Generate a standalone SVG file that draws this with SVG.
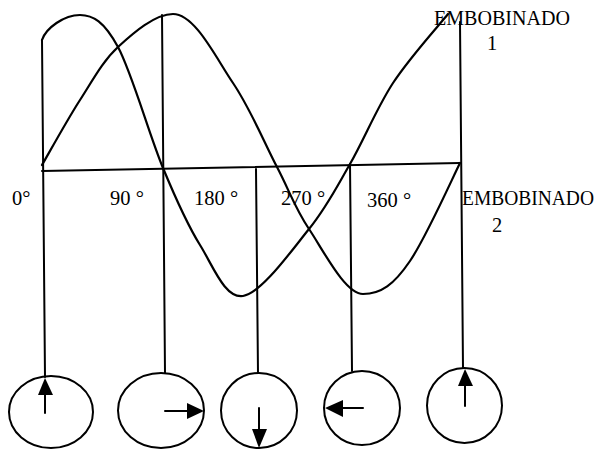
<svg xmlns="http://www.w3.org/2000/svg" width="601" height="449" viewBox="0 0 601 449">
<style>
.ln{fill:none;stroke:#000;stroke-width:2;stroke-linecap:round;stroke-linejoin:round}
.cv{fill:none;stroke:#000;stroke-width:2.2;stroke-linecap:round}
.ci{fill:none;stroke:#000;stroke-width:2}
.hd{fill:#000;stroke:none}
.t{font-family:"Liberation Serif","Times New Roman",serif;font-size:20.5px;fill:#000}
</style>
<rect width="601" height="449" fill="#fff"/>
<g id="connectors">
<line class="ln" x1="42" y1="171" x2="460" y2="163"/>
<line class="ln" x1="42" y1="40" x2="45" y2="377"/>
<line class="ln" x1="162" y1="15" x2="165" y2="373"/>
<line class="ln" x1="256" y1="169" x2="258" y2="373"/>
<line class="ln" x1="350" y1="164" x2="352" y2="371"/>
<line class="ln" x1="460" y1="22" x2="463" y2="368"/>
</g>
<g id="curve-embobinado-1">
<path class="cv" d="M42,40 C46,28 64,15 80,15 C93,15 104,21.5 118,47 C131.8,72.5 149.3,135 163,168 C176.7,201 186.7,223.7 200,245 C213.3,266.3 224.8,298.7 243,296 C261.2,293.3 291.2,251 309,229 C326.8,207 336,188.3 350,164 C364,139.7 376.7,108 393,83 C409.3,58 438.8,25.5 448,14"/>
</g>
<g id="curve-embobinado-2">
<path class="cv" d="M42,165 C48.3,154.2 67.3,119.7 80,100 C92.7,80.3 102.5,61.3 118,47 C133.5,32.7 155,14 173,14 C195,14 215.7,57.5 233,83 C250.3,108.5 264.3,142.7 277,167 C289.7,191.3 294.7,207.8 309,229 C323.3,250.2 345,294 363,294 C381,294 393.8,284.8 410,261 C426.2,237 451.7,179.7 460,163"/>
</g>
<g id="phasor-0">
<ellipse class="ci" cx="51" cy="412" rx="42" ry="36"/>
<line class="ln" x1="45" y1="413" x2="45" y2="392"/>
<polygon class="hd" points="45,378 38,395 53,395"/>
</g>
<g id="phasor-90">
<ellipse class="ci" cx="161" cy="410.5" rx="43" ry="37.5"/>
<line class="ln" x1="165" y1="411" x2="190" y2="411"/>
<polygon class="hd" points="204,411 187,403 187,419"/>
</g>
<g id="phasor-180">
<ellipse class="ci" cx="259" cy="410.5" rx="38" ry="37.5"/>
<line class="ln" x1="259" y1="408" x2="259" y2="432"/>
<polygon class="hd" points="259,448 252,429 267,429"/>
</g>
<g id="phasor-270">
<ellipse class="ci" cx="362" cy="408" rx="38" ry="37"/>
<line class="ln" x1="363" y1="408" x2="340" y2="408"/>
<polygon class="hd" points="325,408 343,400 343,417"/>
</g>
<g id="phasor-360">
<ellipse class="ci" cx="464.5" cy="405.5" rx="37.5" ry="37.5"/>
<line class="ln" x1="465" y1="406" x2="465" y2="383"/>
<polygon class="hd" points="465,369 458,386 473,386"/>
</g>
<g id="labels">
<text class="t" x="12" y="205">0°</text>
<text class="t" x="110" y="205">90 °</text>
<text class="t" x="194" y="205">180 °</text>
<text class="t" x="281" y="205">270 °</text>
<text class="t" x="367" y="207">360 °</text>
<text class="t" x="434" y="25" textLength="136" lengthAdjust="spacingAndGlyphs">EMBOBINADO</text>
<text class="t" x="492" y="50" text-anchor="middle">1</text>
<text class="t" x="462" y="205" textLength="132" lengthAdjust="spacingAndGlyphs">EMBOBINADO</text>
<text class="t" x="497" y="232" text-anchor="middle">2</text>
</g>
</svg>
